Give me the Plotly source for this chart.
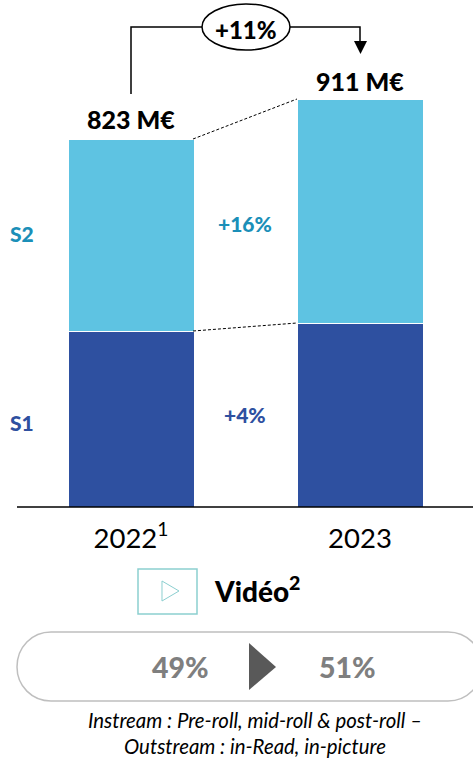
import plotly.graph_objects as go

W, H = 473, 758
BASE = 507
FONT = "Lato"

years = ["2022", "2023"]
year_labels = ["2022<sup>1</sup>", "2023"]
s1_values = [393, 410]
s2_values = [430, 501]
total_labels = ["823 M€", "911 M€"]
growth_labels = ["+16%", "+4%"]
total_growth = "+11%"
split_labels = ["49%", "51%"]
footnote = ["Instream : Pre-roll, mid-roll &amp; post-roll –", "Outstream : in-Read, in-picture"]

S1_COL, S2_COL = "#2E50A0", "#5EC3E2"


def px(x):
    return x / W


def py(y):
    return 1 - y / H


def path(points, close=False):
    d = "M" + " L".join(f"{px(x):.5f},{py(y):.5f}" for x, y in points)
    return d + (" Z" if close else "")


fig = go.Figure()
for name, vals, col in [("S1", s1_values, S1_COL), ("S2", s2_values, S2_COL)]:
    fig.add_bar(x=[0, 1], y=vals, name=name, width=126 / 229, marker=dict(color=col, line=dict(color="white", width=1)))


def text(x, y, s, size, color="black", bold=False, italic=False):
    if italic:
        s = f"<i>{s}</i>"
    fig.add_annotation(xref="paper", yref="paper", x=px(x), y=py(y), text=s, showarrow=False,
                       xanchor="center", yanchor="middle",
                       font=dict(family=FONT, size=size, color=color, weight=900 if bold else 400))


def line_shape(points, color="black", width=1.5, dash="solid", fill=None, close=False):
    fig.add_shape(type="path", xref="paper", yref="paper", path=path(points, close),
                  line=dict(color=color, width=width, dash=dash), fillcolor=fill)


# axis baseline
line_shape([(17, BASE), (473, BASE)], width=1.5)
# connector lines between the bars
line_shape([(193, 139), (297, 99)], width=1, dash="3px,2px")
line_shape([(193, 331), (297, 323)], width=1, dash="3px,2px")
# growth arrow
line_shape([(131, 94), (131, 27), (203, 27)], width=1.5)
line_shape([(289, 27), (360, 27), (360, 42)], width=1.5)
line_shape([(354, 41), (367, 41), (360.5, 54)], width=0, fill="black", close=True)
fig.add_shape(type="circle", xref="paper", yref="paper", x0=px(202), x1=px(290), y0=py(50), y1=py(4),
              line=dict(color="black", width=1.5), fillcolor="white")
# video icon
fig.add_shape(type="rect", xref="paper", yref="paper", x0=px(138), x1=px(197), y0=py(614), y1=py(569),
              line=dict(color="#8CCFD0", width=1.5))
line_shape([(162, 581), (179, 591), (162, 601)], color="#8CCFD0", width=1, close=True)
# pill
x0, x1, y0, y1, r = 17, 482, 632, 701, 34
fig.add_shape(type="path", xref="paper", yref="paper", line=dict(color="#BFBFBF", width=1.5),
              path=(f"M{px(x0 + r)},{py(y0)} L{px(x1 - r)},{py(y0)} "
                    f"C{px(x1 - 15)},{py(y0)} {px(x1)},{py(y0 + 15)} {px(x1)},{py(y0 + r)} "
                    f"C{px(x1)},{py(y1 - 15)} {px(x1 - 15)},{py(y1)} {px(x1 - r)},{py(y1)} "
                    f"L{px(x0 + r)},{py(y1)} "
                    f"C{px(x0 + 15)},{py(y1)} {px(x0)},{py(y1 - 15)} {px(x0)},{py(y1 - r)} "
                    f"C{px(x0)},{py(y0 + 15)} {px(x0 + 15)},{py(y0)} {px(x0 + r)},{py(y0)} Z"))
line_shape([(249, 643), (276, 667), (249, 690)], width=0, fill="#595959", close=True)

text(131, 119, total_labels[0], 25, bold=True)
text(360, 81, total_labels[1], 25, bold=True)
text(246, 29, total_growth, 24, bold=True)
text(22, 233, "S2", 21, color="#1B8FB8", bold=True)
text(22, 422, "S1", 21, color=S1_COL, bold=True)
text(245, 224, growth_labels[0], 21, color="#1B8FB8", bold=True)
text(245, 414, growth_labels[1], 21, color=S1_COL, bold=True)
text(256.5, 589, "Vidéo<sup>2</sup>", 28, bold=True)
text(180, 667, split_labels[0], 28.5, color="#7F7F7F", bold=True)
text(347, 667, split_labels[1], 28.5, color="#7F7F7F", bold=True)
text(255, 720, footnote[0], 20.4, italic=True)
text(255, 746, footnote[1], 20.4, italic=True)

fig.update_layout(
    width=W, height=H, margin=dict(l=0, r=0, t=0, b=0), barmode="stack", showlegend=False,
    plot_bgcolor="white", paper_bgcolor="white", font=dict(family=FONT),
    xaxis=dict(range=[-131 / 229, (W - 131) / 229], domain=[0, 1], tickmode="array", tickvals=[0, 1],
               ticktext=year_labels, ticks="", showgrid=False, zeroline=False, showline=False,
               ticklabelstandoff=12, tickfont=dict(family=FONT, size=27.5, color="black")),
    yaxis=dict(range=[0, BASE / 0.447], domain=[1 - BASE / H, 1], visible=False),
)
fig.write_html("out.html", config={"displayModeBar": False},
               post_script="document.body.style.margin='0';document.body.style.overflow='hidden';")
